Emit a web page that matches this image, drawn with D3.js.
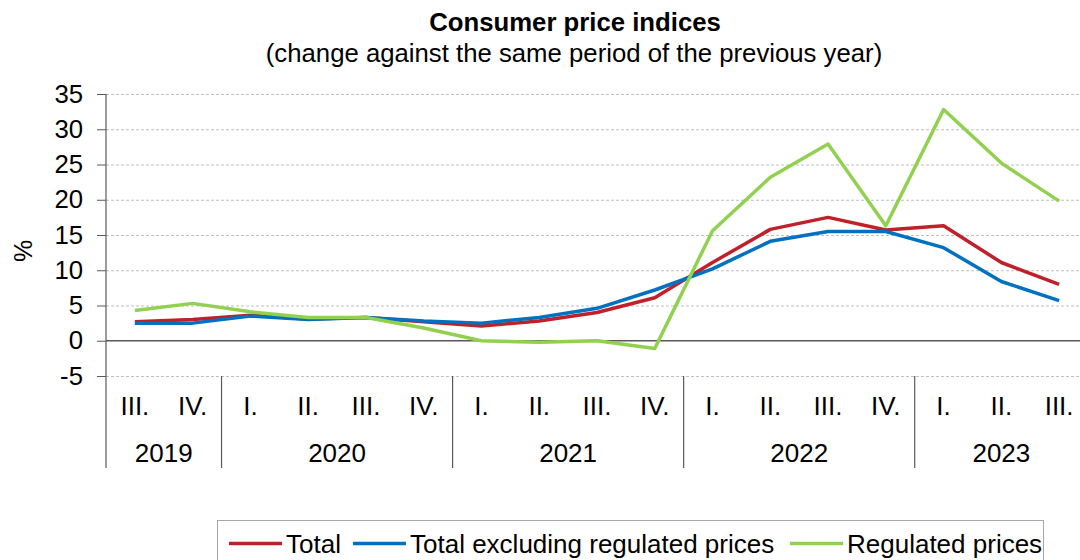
<!DOCTYPE html>
<html>
<head>
<meta charset="utf-8">
<script src="https://d3js.org/d3.v7.min.js"></script>
<style>
  body { margin: 0; background: #fff; }
  svg { font-family: "Liberation Sans", Arial, sans-serif; }
  .axis .domain { display: none; }
  .axis text { fill: #000; }
  .grid line { stroke: #bfbfbf; stroke-dasharray: 3 2; }
  .grid .domain { display: none; }
</style>
</head>
<body>
<div id="chart"></div>
<script>
  // data
  var periods = ["2019Q3","2019Q4","2020Q1","2020Q2","2020Q3","2020Q4","2021Q1","2021Q2","2021Q3","2021Q4","2022Q1","2022Q2","2022Q3","2022Q4","2023Q1","2023Q2","2023Q3"];
  var quarterLabels = ["III.","IV.","I.","II.","III.","IV.","I.","II.","III.","IV.","I.","II.","III.","IV.","I.","II.","III."];
  var yearLabels = ["2019","2020","2021","2022","2023"];
  var yearQuarterCounts = [2, 4, 4, 4, 3];
  var yTicks = [-5, 0, 5, 10, 15, 20, 25, 30, 35];

  var total = [2.7, 3.0, 3.6, 3.1, 3.3, 2.7, 2.1, 2.8, 4.0, 6.1, 11.1, 15.8, 17.5, 15.7, 16.3, 11.1, 8.0];
  var totalExRegulated = [2.5, 2.5, 3.5, 3.0, 3.3, 2.8, 2.5, 3.3, 4.6, 7.2, 10.2, 14.1, 15.5, 15.5, 13.2, 8.4, 5.7];
  var regulated = [4.3, 5.3, 4.1, 3.3, 3.3, 1.8, 0.0, -0.2, 0.0, -1.1, 15.6, 23.2, 27.9, 16.3, 32.8, 25.2, 19.8];

  var seriesNames = ["Total", "Total excluding regulated prices", "Regulated prices"];
  var seriesColors = ["#c0202a", "#0070c0", "#92d050"];
  var seriesValues = [total, totalExRegulated, regulated];

  var W = 1080, H = 560;
  var plot = {left: 106, right: 1088, top: 94, bottom: 376, labelsBottom: 468};
  var sx = 1.03; // title and y ticks are slightly wider than plain Arial

  var svg = d3.select("#chart").append("svg")
    .attr("width", W)
    .attr("height", H);

  var x = d3.scaleBand().domain(periods).range([plot.left, plot.right]).padding(0);
  var y = d3.scaleLinear().domain([-5, 35]).range([plot.bottom, plot.top]);

  function label(g, px, py, txt, anchor, size, stretch) {
    return g.append("text")
      .attr("transform", "translate(" + px + "," + py + ") scale(" + (stretch || 1) + ",1)")
      .attr("text-anchor", anchor || "start")
      .style("font-size", (size || 26) + "px")
      .text(txt);
  }

  // title
  label(svg, 575, 31, "Consumer price indices", "middle", 25, sx).style("font-weight", "bold");
  label(svg, 574, 62, "(change against the same period of the previous year)", "middle", 25, sx);

  // gridlines
  svg.append("g")
    .attr("class", "grid")
    .attr("transform", "translate(" + plot.left + ",0)")
    .call(d3.axisLeft(y).tickValues(yTicks.filter(d => d !== 0)).tickSize(-(plot.right - plot.left)).tickFormat(""));

  // zero line
  svg.append("line")
    .attr("x1", plot.left).attr("x2", plot.right)
    .attr("y1", y(0)).attr("y2", y(0))
    .attr("stroke", "#595959").attr("stroke-width", 1.3);

  // y axis
  var yAxis = svg.append("g")
    .attr("class", "axis")
    .attr("transform", "translate(" + plot.left + ",0)")
    .call(d3.axisLeft(y).tickValues(yTicks).tickSize(9).tickFormat(d => String(d)));
  yAxis.selectAll(".tick line").attr("stroke", "#595959");
  yAxis.selectAll(".tick text")
    .style("font-size", "25px")
    .attr("x", -23 / sx)
    .attr("transform", "scale(" + sx + ",1)");

  // left axis line runs down through category labels
  svg.append("line")
    .attr("x1", plot.left).attr("x2", plot.left)
    .attr("y1", plot.top).attr("y2", plot.labelsBottom)
    .attr("stroke", "#595959").attr("stroke-width", 1.2);

  // quarter labels
  var xAxis = svg.append("g")
    .attr("class", "axis")
    .attr("transform", "translate(0," + plot.bottom + ")")
    .call(d3.axisBottom(x).tickSize(0).tickFormat((d, i) => quarterLabels[i]));
  xAxis.selectAll(".tick text")
    .style("font-size", "26px")
    .attr("y", 39).attr("dy", 0);

  // year groups
  var start = 0;
  yearLabels.forEach(function (yr, i) {
    var n = yearQuarterCounts[i];
    var x0 = x(periods[start]);
    var x1 = x(periods[start + n - 1]) + x.bandwidth();
    if (i > 0) {
      svg.append("line")
        .attr("x1", x0).attr("x2", x0)
        .attr("y1", plot.bottom).attr("y2", plot.labelsBottom)
        .attr("stroke", "#595959").attr("stroke-width", 1.2);
    }
    label(svg, (x0 + x1) / 2, 462, yr, "middle", 26);
    start += n;
  });

  // y label
  svg.append("text")
    .attr("transform", "translate(32,251) rotate(-90)")
    .attr("text-anchor", "middle")
    .style("font-size", "25px")
    .text("%");

  // lines
  var line = d3.line()
    .x((d, i) => x(periods[i]) + x.bandwidth() / 2)
    .y(d => y(d));

  seriesValues.forEach(function (vals, k) {
    svg.append("path")
      .datum(vals)
      .attr("fill", "none")
      .attr("stroke", seriesColors[k])
      .attr("stroke-width", 3.5)
      .attr("stroke-linejoin", "round")
      .attr("d", line);
  });

  // legend
  var legend = svg.append("g");
  legend.append("rect")
    .attr("x", 217.5).attr("y", 520.5)
    .attr("width", 826).attr("height", 60)
    .attr("fill", "#fff").attr("stroke", "#a6a6a6");

  var legendX = [229, 353, 790];
  seriesNames.forEach(function (name, k) {
    legend.append("line")
      .attr("x1", legendX[k]).attr("x2", legendX[k] + 53)
      .attr("y1", 543.5).attr("y2", 543.5)
      .attr("stroke", seriesColors[k]).attr("stroke-width", 3.5);
    label(legend, legendX[k] + 57, 553, name, "start", 26);
  });
</script>
</body>
</html>
